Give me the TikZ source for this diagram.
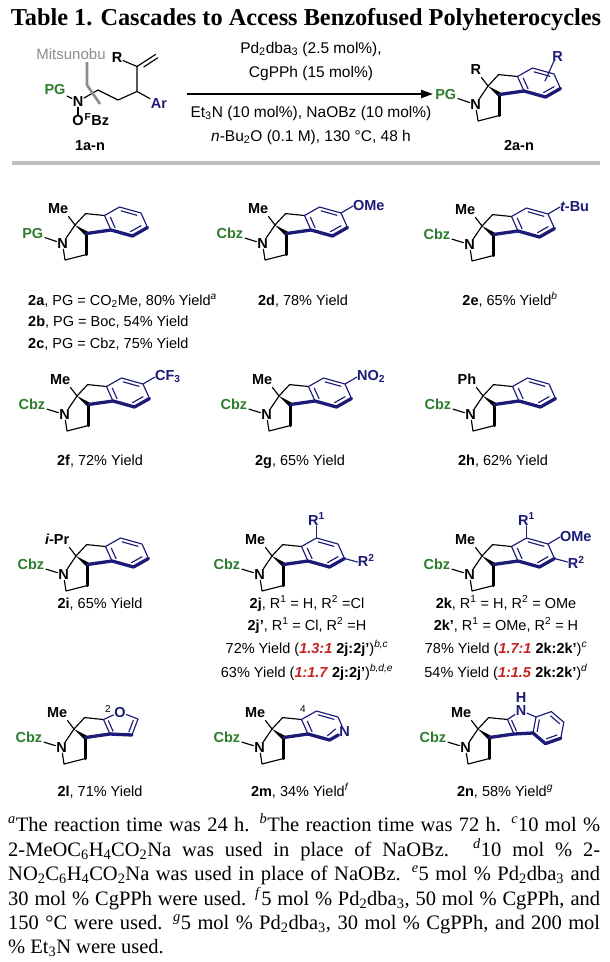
\documentclass[tikz,border=0pt]{standalone}
\usepackage{fontspec}
\setmainfont{Liberation Serif}
\setsansfont{Liberation Sans}
\usetikzlibrary{arrows.meta,calc}
\definecolor{pgreen}{RGB}{45,125,45}
\definecolor{pblue}{RGB}{28,28,120}
\definecolor{pred}{RGB}{200,35,35}
\definecolor{mgray}{RGB}{140,140,140}
\definecolor{rulegray}{RGB}{190,190,190}
\newcommand\sbs[1]{\textsubscript{#1}}
\newcommand\sps[1]{\textsuperscript{#1}}
\newcommand\fn[1]{\textsuperscript{\textit{#1}}}
\newcommand\rr[1]{\textcolor{pred}{\textbf{\textit{#1}}}}
\tikzset{
  bond/.style={line width=1.15pt, line cap=round, line join=round},
  bbond/.style={bond, draw=pblue},
  boldb/.style={line width=3.3pt, line cap=round, line join=round, draw=pblue},
  boldk/.style={line width=3.3pt, line cap=round},
  atom/.style={font=\sffamily\bfseries\fontsize{14.5}{14.5}\selectfont, inner sep=0.6pt},
  batom/.style={atom, text=pblue},
  gatom/.style={atom, text=pgreen},
  cpd/.style={font=\sffamily\bfseries\fontsize{14.5}{14.5}\selectfont, inner sep=0pt},
  smalln/.style={font=\sffamily\fontsize{10}{10}\selectfont, inner sep=0pt},
  lbl/.style={font=\sffamily\fontsize{14.5}{14.5}\selectfont, inner sep=0pt},
  cond/.style={font=\sffamily\fontsize{15.5}{15.5}\selectfont, inner sep=0pt},
  foot/.style={font=\fontsize{20.5}{24}\selectfont, inner sep=0pt, anchor=base west},
}
% core: #1 substituent on quaternary C, #2 protecting group
\newcommand\molcore[2]{%
  \coordinate (C1) at (0,0);
  \coordinate (Ca) at (10.6,-11.4);
  \coordinate (F1) at (29.5,-9.5);
  \coordinate (F2) at (36,5);
  \coordinate (B) at (11.5,8.5);
  \coordinate (Cc) at (11.5,29.5);
  \coordinate (Cb) at (-10,35);
  \node[atom] (N) at (-12.5,18.5) {N};
  \node[atom, anchor=south east] (Sub) at (-6,-10.5) {#1};
  \node[gatom, anchor=east] (PG) at (-31,8.5) {#2};
  \draw[bond] (C1) -- (-6.5,-8.5);
  \draw[bond] (C1) -- (Ca) -- (F1);
  \draw[bond] (C1) -- (N);
  \draw[bond] (N) -- (Cb) -- (Cc);
  \draw[bond, shorten <=1pt] (PG) -- (N);
  \draw[boldk] (Cc) -- (B);
  \fill (C1) -- (10.2,10.3) -- (12.8,6.7) -- cycle;
}
\newcommand\ringcoords{%
  \coordinate (c) at (51,-3.5);
  \coordinate (T) at (44.5,-18);
  \coordinate (TR) at (66,-12);
  \coordinate (R) at (72.5,2.5);
  \coordinate (BR) at (57.5,11);
}
\newcommand\benz{%
  \ringcoords
  \draw[bbond] (F2) -- (F1) -- (T) -- (TR) -- (R);
  \draw[boldb] (B) -- (F2) -- (BR) -- (R);
  \draw[bbond] ($(F1)!0.27!(c)$) -- ($(F2)!0.27!(c)$);
  \draw[bbond] ($(T)!0.27!(c)$) -- ($(TR)!0.27!(c)$);
  \draw[bbond] ($(R)!0.3!(c)$) -- ($(BR)!0.3!(c)$);
}
\newcommand\trsub[1]{%
  \draw[bbond] (TR) -- (78,-19);
  \node[batom, anchor=west] (TRs) at (77.3,-19.5) {#1};
}
\begin{document}
\begin{tikzpicture}[x=1pt,y=-1pt]
\fill[white] (0,0) rectangle (610,962);
\useasboundingbox (0,0) rectangle (610,962);

% title
\node[anchor=base, inner sep=0pt] (title) at (306,25)
  {\resizebox{590pt}{!}{\textbf{Table 1. Cascades to Access Benzofused Polyheterocycles}}};

% ---------- starting material 1a-n ----------
\node[font=\sffamily\fontsize{15}{15}\selectfont, text=mgray, inner sep=0pt] (mits) at (71,54) {Mitsunobu};
\node[atom] (smN) at (78,101.5) {N};
\node[gatom] (smPG) at (55,90) {PG};
\draw[bond, shorten <=1pt] (smPG) -- (smN);
\node[atom] (smO) at (78,121) {O};
\node[atom, anchor=base west, inner sep=0pt] (smBz) at (smO.base east) {\textsuperscript{F}Bz};
\draw[bond] (smN) -- (smO);
\coordinate (smA) at (98,90);
\coordinate (smB) at (118,100);
\coordinate (smCH) at (137,91.5);
\coordinate (smCv) at (137,66.5);
\coordinate (smCH2) at (155.5,54.5);
\node[atom] (smR) at (117,58) {R};
\node[batom, anchor=west] (smAr) at (150,103.5) {Ar};
\draw[bond] (smN) -- (smA) -- (smB) -- (smCH) -- (smCv);
\draw[bond] (smCH) -- (smAr);
\draw[bond] (smR) -- (smCv);
\draw[bond] (smCv) -- (smCH2);
\draw[bond] ($(smCv)!0.25!(smCH2)+(2.2,3.4)$) -- ($(smCH2)+(2.2,3.4)$);
\draw[mgray, line width=2.6pt] (87,62) -- (87,85) -- (100,104);
\node[cpd] (l1an) at (90,146) {1a-n};

% ---------- arrow and conditions ----------
\coordinate (arrS) at (187,94);
\coordinate (arrE) at (433,94);
\draw[line width=2pt, -{Triangle[length=12pt,width=8pt]}] (arrS) -- (arrE);
\node[cond] (c1) at (311,49) {Pd\sbs{2}dba\sbs{3} (2.5 mol\%),};
\node[cond] (c2) at (311,73) {CgPPh (15 mol\%)};
\node[cond] (c3) at (311,113) {Et\sbs{3}N (10 mol\%), NaOBz (10 mol\%)};
\node[cond] (c4) at (311,137) {\textit{n}-Bu\sbs{2}O (0.1 M), 130 °C, 48 h};

% ---------- product 2a-n ----------
\begin{scope}[shift={(488,86)}]
  \molcore{R}{PG}\benz
  \draw[bbond] (57,-5) -- (66,-25);
  \node[batom, anchor=south west] (hpR) at (63.5,-24) {R};
\end{scope}
\node[cpd] (l2an) at (519,146) {2a-n};

\draw[rulegray, line width=3.5pt] (12,163) -- (600,163);

% ---------- row 1 ----------
\begin{scope}[shift={(75,225)}]
  \molcore{Me}{PG}\benz
\end{scope}
\begin{scope}[shift={(275,225)}]
  \molcore{Me}{Cbz}\benz\trsub{OMe}
\end{scope}
\begin{scope}[shift={(482,226)}]
  \molcore{Me}{Cbz}\benz\trsub{{\itshape t}-Bu}
\end{scope}
\node[lbl, anchor=base west] (l2a) at (28,305) {\textbf{2a}, PG = CO\sbs{2}Me, 80\% Yield\fn{a}};
\node[lbl, anchor=base west] (l2b) at (28,326) {\textbf{2b}, PG = Boc, 54\% Yield};
\node[lbl, anchor=base west] (l2c) at (28,348) {\textbf{2c}, PG = Cbz, 75\% Yield};
\node[lbl, anchor=base] (l2d) at (303,305) {\textbf{2d}, 78\% Yield};
\node[lbl, anchor=base] (l2e) at (510,305) {\textbf{2e}, 65\% Yield\fn{b}};

% ---------- row 2 ----------
\begin{scope}[shift={(77,396)}]
  \molcore{Me}{Cbz}\benz\trsub{CF\sbs{3}}
\end{scope}
\begin{scope}[shift={(279,396)}]
  \molcore{Me}{Cbz}\benz\trsub{NO\sbs{2}}
\end{scope}
\begin{scope}[shift={(483,396)}]
  \molcore{Ph}{Cbz}\benz
\end{scope}
\node[lbl, anchor=base] (l2f) at (100,465) {\textbf{2f}, 72\% Yield};
\node[lbl, anchor=base] (l2g) at (300,465) {\textbf{2g}, 65\% Yield};
\node[lbl, anchor=base] (l2h) at (503,465) {\textbf{2h}, 62\% Yield};

% ---------- row 3 ----------
\begin{scope}[shift={(76,556)}]
  \molcore{{\itshape i}-Pr}{Cbz}\benz
\end{scope}
\begin{scope}[shift={(272,556)}]
  \molcore{Me}{Cbz}\benz
  \draw[bbond] (T) -- (44.5,-30);
  \node[batom, anchor=south] (jR1) at (44.5,-30) {R\sps{1}};
  \draw[bbond] (R) -- (85.5,6);
  \node[batom, anchor=west] (jR2) at (85,4.5) {R\sps{2}};
\end{scope}
\begin{scope}[shift={(482,556)}]
  \molcore{Me}{Cbz}\benz\trsub{OMe}
  \draw[bbond] (T) -- (44.5,-30);
  \node[batom, anchor=south] (kR1) at (44.5,-30) {R\sps{1}};
  \draw[bbond] (R) -- (85.5,6);
  \node[batom, anchor=west] (kR2) at (85,6.5) {R\sps{2}};
\end{scope}
\node[lbl, anchor=base] (l2i) at (100,608) {\textbf{2i}, 65\% Yield};
\node[lbl, anchor=base] (l2j1) at (307,608) {\textbf{2j}, R\sps{1} = H, R\sps{2} =Cl};
\node[lbl, anchor=base] (l2j2) at (307,630) {\textbf{2j'}, R\sps{1} = Cl, R\sps{2} =H};
\node[lbl, anchor=base] (l2j3) at (307,653) {72\% Yield (\rr{1.3:1} \textbf{2j:2j'})\fn{b,c}};
\node[lbl, anchor=base] (l2j4) at (307,677) {63\% Yield (\rr{1:1.7} \textbf{2j:2j'})\fn{b,d,e}};
\node[lbl, anchor=base] (l2k1) at (506,608) {\textbf{2k}, R\sps{1} = H, R\sps{2} = OMe};
\node[lbl, anchor=base] (l2k2) at (506,630) {\textbf{2k'}, R\sps{1} = OMe, R\sps{2} = H};
\node[lbl, anchor=base] (l2k3) at (506,653) {78\% Yield (\rr{1.7:1} \textbf{2k:2k'})\fn{c}};
\node[lbl, anchor=base] (l2k4) at (506,677) {54\% Yield (\rr{1:1.5} \textbf{2k:2k'})\fn{d}};

% ---------- row 4 ----------
% 2l furan
\begin{scope}[shift={(74,729)}]
  \molcore{Me}{Cbz}
  \coordinate (fc) at (47,-5);
  \node[batom] (fO) at (46,-17) {O};
  \coordinate (fC5) at (64,-10);
  \coordinate (fC4) at (58,6);
  \draw[bbond] (F2) -- (F1) -- (fO) -- (fC5) -- (fC4);
  \draw[boldb] (B) -- (F2) -- (fC4);
  \draw[bbond] ($(F1)!0.28!(fc)$) -- ($(F2)!0.28!(fc)$);
  \draw[bbond] ($(fC5)!0.28!(fc)$) -- ($(fC4)!0.28!(fc)$);
  \node[smalln] (n2) at (34,-20) {2};
\end{scope}
% 2m pyridine
\begin{scope}[shift={(272,729)}]
  \molcore{Me}{Cbz}
  \ringcoords
  \node[batom] (pN) at (R) {N};
  \draw[bbond] (F2) -- (F1) -- (T) -- (TR) -- (pN);
  \draw[boldb] (B) -- (F2) -- (BR) -- (pN);
  \draw[bbond] ($(F1)!0.27!(c)$) -- ($(F2)!0.27!(c)$);
  \draw[bbond] ($(T)!0.27!(c)$) -- ($(TR)!0.27!(c)$);
  \draw[bbond] ($(R)!0.42!(c)$) -- ($(BR)!0.3!(c)$);
  \node[smalln] (n4) at (31,-20) {4};
\end{scope}
% 2n indole
\begin{scope}[shift={(478,729)}]
  \molcore{Me}{Cbz}
  \coordinate (pc) at (44.3,-6.3);
  \coordinate (bc) at (70.4,-1.4);
  \node[batom] (iN) at (43,-18.5) {N};
  \node[batom, anchor=south] (iH) at (43,-25.5) {H};
  \coordinate (C7a) at (58,-12);
  \coordinate (C3a) at (55,4);
  \coordinate (P2) at (67.4,14.6);
  \coordinate (P3) at (82.8,9.2);
  \coordinate (P4) at (85.8,-6.8);
  \coordinate (P5) at (73.4,-17.4);
  \draw[bbond] (F2) -- (F1) -- (iN) -- (C7a) -- (C3a);
  \draw[bbond] (P3) -- (P4) -- (P5) -- (C7a);
  \draw[boldb] (B) -- (F2) -- (C3a) -- (P2) -- (P3);
  \draw[bbond] ($(F1)!0.28!(pc)$) -- ($(F2)!0.28!(pc)$);
  \draw[bbond] ($(C7a)!0.27!(bc)$) -- ($(C3a)!0.27!(bc)$);
  \draw[bbond] ($(P2)!0.3!(bc)$) -- ($(P3)!0.3!(bc)$);
  \draw[bbond] ($(P4)!0.27!(bc)$) -- ($(P5)!0.27!(bc)$);
\end{scope}
\node[lbl, anchor=base] (l2l) at (100,796) {\textbf{2l}, 71\% Yield};
\node[lbl, anchor=base] (l2m) at (300,796) {\textbf{2m}, 34\% Yield\fn{f}};
\node[lbl, anchor=base] (l2n) at (505,796) {\textbf{2n}, 58\% Yield\fn{g}};

% ---------- footnotes ----------
\node[foot] (f1) at (8,831) {\makebox[592pt][s]{\fn{a}The reaction time was 24 h. \fn{b}The reaction time was 72 h. \fn{c}10 mol \%}};
\node[foot] (f2) at (8,856) {\makebox[592pt][s]{2-MeOC\sbs{6}H\sbs{4}CO\sbs{2}Na was used in place of NaOBz. \fn{d}10 mol \% 2-}};
\node[foot] (f3) at (8,880) {\makebox[592pt][s]{NO\sbs{2}C\sbs{6}H\sbs{4}CO\sbs{2}Na was used in place of NaOBz. \fn{e}5 mol \% Pd\sbs{2}dba\sbs{3} and}};
\node[foot] (f4) at (8,905) {\makebox[592pt][s]{30 mol \% CgPPh were used. \fn{f}5 mol \% Pd\sbs{2}dba\sbs{3}, 50 mol \% CgPPh, and}};
\node[foot] (f5) at (8,929) {\makebox[592pt][s]{150 °C were used. \fn{g}5 mol \% Pd\sbs{2}dba\sbs{3}, 30 mol \% CgPPh, and 200 mol}};
\node[foot] (f6) at (8,953) {\% Et\sbs{3}N were used.};
\end{tikzpicture}
\end{document}
